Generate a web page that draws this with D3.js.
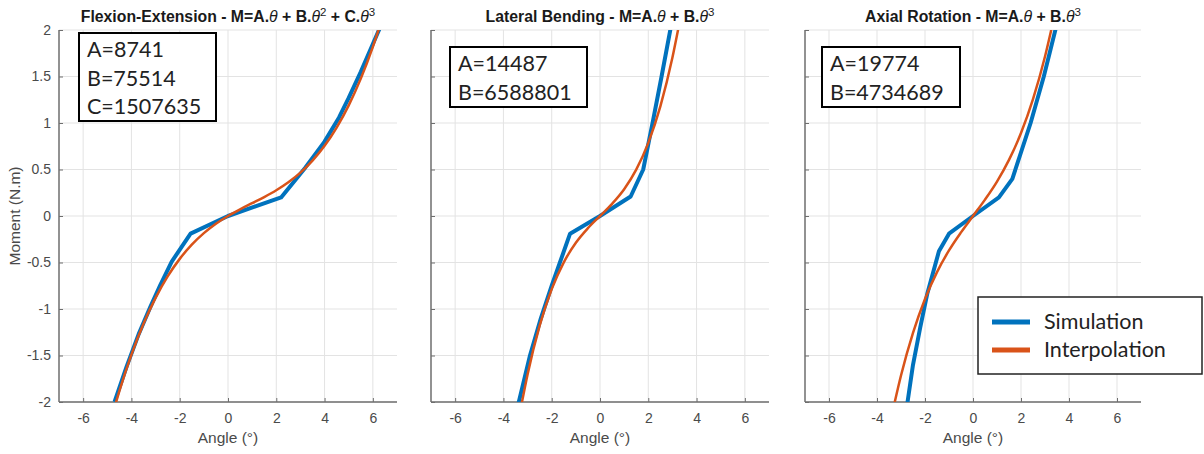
<!DOCTYPE html>
<html><head><meta charset="utf-8">
<script src="https://cdn.jsdelivr.net/npm/d3@7"></script>
<style>body{margin:0;background:#fff}svg{display:block}</style>
</head><body>
<svg id="c" width="1204" height="454"></svg>
<script>
// ---- data ----
const xTicks = [-6, -4, -2, 0, 2, 4, 6];
const xTickLabels = ["-6", "-4", "-2", "0", "2", "4", "6"];
const yTicks = [-2, -1.5, -1, -0.5, 0, 0.5, 1, 1.5, 2];
const yTickLabels = ["-2", "-1.5", "-1", "-0.5", "0", "0.5", "1", "1.5", "2"];
const seriesNames = ["Simulation", "Interpolation"];

const flexSim = [[-4.7,-2.0],[-4.2,-1.62],[-3.7,-1.27],[-3.22,-0.98],[-2.8,-0.74],[-2.33,-0.49],[-1.55,-0.19],[0,0],[2.2,0.2],[3.2,0.52],[4.0,0.80],[4.6,1.06],[5.0,1.27],[5.5,1.55],[6.0,1.85],[6.32,2.04]];
const flexFit = [[-4.7,-2.057],[-4.5,-1.883],[-4,-1.491],[-3.5,-1.159],[-3,-0.881],[-2.5,-0.650],[-2,-0.461],[-1.5,-0.308],[-1,-0.184],[-0.5,-0.083],[0,0],[0.5,0.072],[1,0.138],[1.5,0.204],[2,0.277],[2.5,0.363],[3,0.467],[3.5,0.596],[4,0.755],[4.5,0.951],[5,1.190],[5.5,1.477],[6,1.819],[6.3,2.052]];

const latSim = [[-3.4,-2.04],[-2.9,-1.5],[-2.45,-1.1],[-2.0,-0.75],[-1.24,-0.19],[0,0],[1.27,0.21],[1.79,0.5],[2.2,1.03],[2.55,1.5],[2.94,2.04]];
const latFit = [[-3.25,-2.024],[-3,-1.704],[-2.5,-1.179],[-2,-0.786],[-1.5,-0.498],[-1,-0.288],[-0.5,-0.131],[0,0],[0.5,0.131],[1,0.288],[1.5,0.498],[2,0.786],[2.5,1.179],[3,1.704],[3.25,2.024]];

const axSim = [[-2.75,-2.04],[-2.5,-1.6],[-2.2,-1.2],[-1.9,-0.83],[-1.42,-0.38],[-1.0,-0.19],[0,0],[1.08,0.2],[1.64,0.4],[2.4,1.0],[2.95,1.5],[3.47,2.04]];
const axFit = [[-3.35,-2.103],[-3,-1.715],[-2.5,-1.256],[-2,-0.892],[-1.5,-0.603],[-1,-0.370],[-0.5,-0.176],[0,0],[0.5,0.176],[1,0.370],[1.5,0.603],[2,0.892],[2.5,1.256],[3,1.715],[3.35,2.103]];

const titleMain = ["Flexion-Extension - M=A.", "Lateral Bending - M=A.", "Axial Rotation - M=A."];
const boxTexts = [["A=8741","B=75514","C=1507635"],["A=14487","B=6588801"],["A=19774","B=4734689"]];

// ---- layout ----
const svg = d3.select("#c");
const panels = [
  {x0:59, x1:397, sim:flexSim, fit:flexFit, box:[79,33,137,88], textX:87, showY:true, terms:[["B.",2],["C.",3]]},
  {x0:431, x1:769, sim:latSim, fit:latFit, box:[450,47,137,60], textX:458, showY:false, terms:[["B.",3]]},
  {x0:805, x1:1141, sim:axSim, fit:axFit, box:[822,47,138,60], textX:830, showY:false, terms:[["B.",3]]}
];
const yTop = 30, yBot = 402;
const blue = "#0072BD", orange = "#D95319";
const axisCol = "#6e6e6e", textCol = "#4a4a4a";

const defs = svg.append("defs");

panels.forEach((p, i) => {
  const x = d3.scaleLinear().domain([-7, 7]).range([p.x0, p.x1]);
  const y = d3.scaleLinear().domain([-2, 2]).range([yBot, yTop]);
  const g = svg.append("g");

  // grid
  g.selectAll(".gx").data(xTicks).join("line")
    .attr("x1", d => x(d)).attr("x2", d => x(d)).attr("y1", yTop).attr("y2", yBot)
    .attr("stroke", "#e3e3e3").attr("stroke-width", 1);
  g.selectAll(".gy").data(yTicks).join("line")
    .attr("x1", p.x0).attr("x2", p.x1).attr("y1", d => y(d)).attr("y2", d => y(d))
    .attr("stroke", "#e3e3e3").attr("stroke-width", 1);

  // axes
  const xa = g.append("g").attr("transform", `translate(0,${yBot})`)
    .call(d3.axisBottom(x).tickValues(xTicks).tickSizeInner(-4).tickSizeOuter(0).tickPadding(11)
      .tickFormat((d, k) => xTickLabels[k]));
  const ya = g.append("g").attr("transform", `translate(${p.x0},0)`)
    .call(d3.axisLeft(y).tickValues(yTicks).tickSizeInner(-4).tickSizeOuter(0).tickPadding(8)
      .tickFormat((d, k) => p.showY ? yTickLabels[k] : ""));
  if (!p.showY) ya.selectAll(".tick text").remove();
  [xa, ya].forEach(a => {
    a.select(".domain").attr("stroke", axisCol).attr("stroke-width", 1.5);
    a.selectAll(".tick line").attr("stroke", axisCol);
    a.selectAll("text").attr("fill", textCol).attr("font-family", "Liberation Sans, Arial, sans-serif").attr("font-size", 14);
  });
  ya.select(".domain").attr("d", `M0,${yTop}V${yBot}`);
  xa.select(".domain").attr("d", `M${p.x0},0H${p.x1}`);

  // clip
  defs.append("clipPath").attr("id", "clip" + i).append("rect")
    .attr("x", p.x0).attr("y", yTop).attr("width", p.x1 - p.x0).attr("height", yBot - yTop);

  const lineSim = d3.line().x(d => x(d[0])).y(d => y(d[1])).curve(d3.curveLinear);
  const lineFit = d3.line().x(d => x(d[0])).y(d => y(d[1])).curve(d3.curveMonotoneX);
  const cg = g.append("g").attr("clip-path", `url(#clip${i})`);
  cg.append("path").datum(p.sim).attr("d", lineSim).attr("fill", "none")
    .attr("stroke", blue).attr("stroke-width", 4).attr("stroke-linejoin", "round");
  cg.append("path").datum(p.fit).attr("d", lineFit).attr("fill", "none")
    .attr("stroke", orange).attr("stroke-width", 2.5);

  // x label
  g.append("text").attr("x", x(0)).attr("y", 443).attr("text-anchor", "middle")
    .attr("font-family", "Liberation Sans, Arial, sans-serif").attr("font-size", 15.5).attr("fill", textCol)
    .text("Angle (°)");

  // title
  const t = g.append("text").attr("x", x(0)).attr("y", 22).attr("text-anchor", "middle")
    .attr("font-family", "Liberation Sans, Arial, sans-serif").attr("font-size", 15.8).attr("font-weight", "bold").attr("fill", "#1a1a1a");
  t.append("tspan").text(titleMain[i]);
  t.append("tspan").attr("font-style", "italic").attr("font-weight", "normal").text("θ");
  p.terms.forEach((tm, k) => {
    const s = t.append("tspan").text(" + " + tm[0]);
    if (k > 0) s.attr("dy", 6);
    t.append("tspan").attr("font-style", "italic").attr("font-weight", "normal").text("θ");
    t.append("tspan").attr("dy", -6).attr("font-size", 11.5).attr("font-weight", "normal").text(tm[1]);
  });

  // text box
  const b = p.box;
  g.append("rect").attr("x", b[0]).attr("y", b[1]).attr("width", b[2]).attr("height", b[3])
    .attr("fill", "#fff").attr("stroke", "#000").attr("stroke-width", 2);
  g.selectAll(".bt").data(boxTexts[i]).join("text")
    .attr("x", p.textX).attr("y", (d, k) => b[1] + 24 + k * 28.5)
    .attr("font-family", "Lato, 'Open Sans', sans-serif").attr("font-size", 21.5).attr("fill", "#222")
    .text(d => d);
});

// y label
svg.append("text").attr("transform", "translate(20,216) rotate(-90)").attr("text-anchor", "middle")
  .attr("font-family", "Liberation Sans, Arial, sans-serif").attr("font-size", 15.5).attr("fill", textCol)
  .text("Moment (N.m)");

// legend
const lg = svg.append("g");
lg.append("rect").attr("x", 978).attr("y", 297).attr("width", 224).attr("height", 77)
  .attr("fill", "#fff").attr("stroke", "#222").attr("stroke-width", 1.5);
[blue, orange].forEach((c, k) => {
  const yy = 322 + k * 28;
  lg.append("line").attr("x1", 992).attr("x2", 1030).attr("y1", yy).attr("y2", yy)
    .attr("stroke", c).attr("stroke-width", 5);
  lg.append("text").attr("x", 1044).attr("y", yy + 7)
    .attr("font-family", "Lato, 'Open Sans', sans-serif").attr("font-size", 21.5).attr("fill", "#222")
    .text(seriesNames[k]);
});
</script>
</body></html>
